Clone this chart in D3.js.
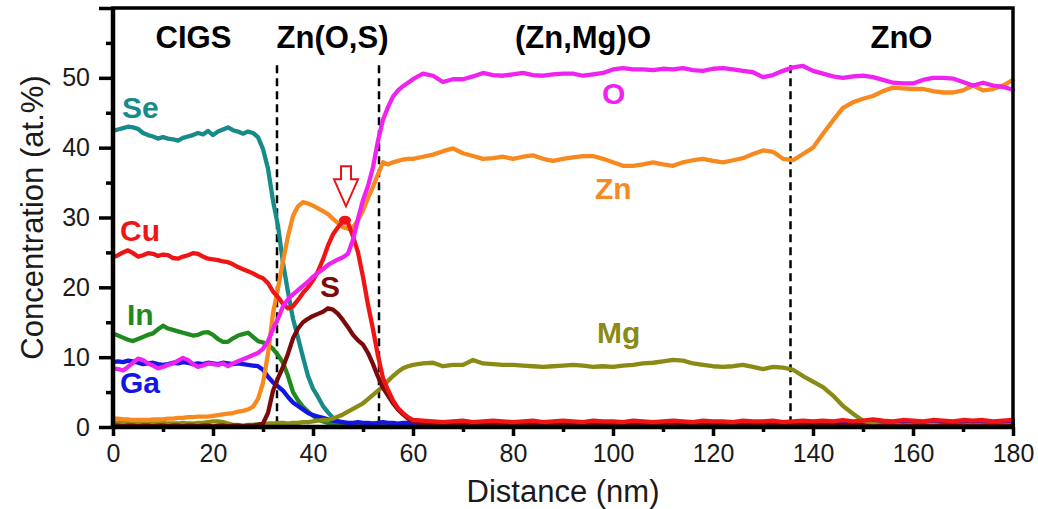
<!DOCTYPE html>
<html>
<head>
<meta charset="utf-8">
<script src="https://cdn.jsdelivr.net/npm/d3@7"></script>
<style>
  body { margin: 0; background: #fff; }
  svg { display: block; font-family: "Liberation Sans", Arial, sans-serif; }
</style>
</head>
<body>
<div id="container"></div>
<script>
const width = 1038;
const height = 509;
const marginLeft = 113;
const marginRight = 25;
const marginTop = 8;
const marginBottom = 82;

// distance grid (nm): 1 nm steps up to 60, then 2 nm steps
const distance = [
  0, 1, 2, 3, 4, 5, 6, 7, 8, 9, 10, 11, 12, 13, 14, 15, 16, 17, 18, 19,
  20, 21, 22, 23, 24, 25, 26, 27, 28, 29, 30, 31, 32, 33, 34, 35, 36, 37, 38, 39,
  40, 41, 42, 43, 44, 45, 46, 47, 48, 49, 50, 51, 52, 53, 54, 55, 56, 57, 58, 59, 60,
  62, 64, 66, 68, 70, 72, 74, 76, 78, 80, 82, 84, 86, 88, 90, 92, 94, 96, 98, 100,
  102, 104, 106, 108, 110, 112, 114, 116, 118, 120, 122, 124, 126, 128, 130, 132, 134, 136, 138, 140,
  142, 144, 146, 148, 150, 152, 154, 156, 158, 160, 162, 164, 166, 168, 170, 172, 174, 176, 178, 180
];

const seConc = [
  42.4, 42.6, 42.8, 43.0, 42.9, 42.7, 42.1, 41.8, 41.6, 41.3,
  41.5, 41.3, 41.2, 41.0, 41.4, 41.6, 41.8, 42.1, 41.9, 42.4,
  41.8, 42.3, 42.6, 42.9, 42.5, 42.3, 42.0, 42.3, 42.1, 41.5,
  39.8, 37.0, 32.4, 28.8, 23.5, 19.3, 15.5, 12.8, 10.0, 7.3,
  5.5, 4.3, 3.0, 2.1, 1.3, 0.8, 0.6, 0.5, 0.5, 0.4,
  0.5, 0.4, 0.5, 0.4, 0.4, 0.5, 0.4, 0.4, 0.5, 0.4,
  0.4,
  0.4, 0.5, 0.4, 0.4, 0.5, 0.4, 0.3, 0.4, 0.5, 0.4,
  0.4, 0.3, 0.4, 0.5, 0.4, 0.4, 0.5, 0.4, 0.3, 0.4,
  0.4, 0.5, 0.4, 0.4, 0.3, 0.4, 0.5, 0.4, 0.4, 0.5,
  0.4, 0.3, 0.4, 0.4, 0.5, 0.4, 0.4, 0.3, 0.4, 0.5,
  0.4, 0.4, 0.5, 0.4, 0.3, 0.4, 0.4, 0.5, 0.4, 0.4,
  0.3, 0.4, 0.5, 0.4, 0.4, 0.5, 0.4, 0.3, 0.4, 0.4
];

const cuConc = [
  24.3, 24.6, 25.0, 25.3, 24.9, 24.4, 24.6, 24.9, 24.8, 24.5,
  24.7, 24.6, 24.2, 24.1, 24.4, 24.6, 24.9, 24.8, 24.4, 24.1,
  24.0, 23.9, 23.7, 23.6, 23.3, 22.9, 22.6, 22.3, 22.0, 21.6,
  21.3, 20.6, 19.4, 18.6, 17.6, 17.0, 17.3, 18.2, 19.2, 20.0,
  21.0, 22.3, 24.0, 26.0, 27.6, 28.6, 29.5, 29.2, 27.3, 25.0,
  21.5, 17.5, 14.0, 10.2, 7.0, 5.3, 3.8, 2.7, 2.0, 1.4,
  1.0,
  0.9, 0.8, 0.7, 0.8, 0.9, 0.7, 0.8, 0.9, 0.8, 0.7,
  0.8, 0.9, 0.7, 0.8, 0.9, 0.8, 0.7, 0.9, 0.8, 0.8,
  0.7, 0.9, 0.8, 0.7, 0.8, 0.9, 0.8, 0.7, 0.9, 0.8,
  0.8, 0.7, 0.9, 0.8, 0.8, 0.9, 0.7, 0.8, 0.9, 0.8,
  0.9, 0.8, 1.0, 0.8, 0.9, 1.1, 0.9, 0.8, 1.0, 0.9,
  0.8, 1.0, 0.9, 0.8, 1.0, 0.9, 1.0, 0.8, 0.9, 1.0
];

const inConc = [
  13.4, 13.1, 12.8, 12.5, 12.3, 12.6, 12.9, 13.2, 13.4, 14.0,
  14.5, 14.1, 13.9, 13.7, 13.5, 13.3, 13.1, 13.2, 13.5, 13.6,
  13.2, 12.6, 12.2, 12.2, 12.7, 13.1, 13.3, 13.5, 12.9, 12.3,
  12.1, 11.8, 11.2, 10.3, 9.2, 7.3, 5.0, 3.8, 2.9, 2.2,
  1.6, 1.1, 0.8, 0.6, 0.5, 0.5, 0.4, 0.4, 0.5, 0.4,
  0.4, 0.5, 0.4, 0.4, 0.5, 0.4, 0.4, 0.4, 0.5, 0.4,
  0.4,
  0.4, 0.3, 0.4, 0.4, 0.3, 0.4, 0.5, 0.4, 0.3, 0.4,
  0.4, 0.4, 0.3, 0.4, 0.5, 0.4, 0.3, 0.4, 0.4, 0.3,
  0.4, 0.4, 0.5, 0.4, 0.3, 0.4, 0.4, 0.3, 0.4, 0.5,
  0.4, 0.4, 0.3, 0.4, 0.4, 0.5, 0.4, 0.3, 0.4, 0.4,
  0.3, 0.4, 0.4, 0.5, 0.4, 0.4, 0.3, 0.4, 0.4, 0.5,
  0.4, 0.3, 0.4, 0.4, 0.5, 0.4, 0.4, 0.3, 0.4, 0.4
];

const gaConc = [
  9.3, 9.4, 9.3, 9.5, 9.4, 9.2, 9.0, 9.1, 9.2, 9.0,
  8.9, 9.0, 9.2, 9.1, 9.3, 9.2, 9.0, 9.1, 9.0, 9.2,
  9.1, 9.0, 9.2, 9.1, 9.0, 9.1, 9.0, 8.9, 8.8, 8.7,
  8.2, 7.2, 6.4, 5.8, 5.2, 4.3, 3.5, 3.0, 2.5, 2.0,
  1.7, 1.5, 1.3, 1.1, 0.9, 0.8, 0.7, 0.6, 0.6, 0.7,
  0.6, 0.6, 0.5, 0.6, 0.7, 0.6, 0.6, 0.5, 0.6, 0.6,
  0.6,
  0.6, 0.6, 0.5, 0.6, 0.7, 0.6, 0.5, 0.6, 0.6, 0.7,
  0.6, 0.5, 0.6, 0.6, 0.7, 0.6, 0.6, 0.5, 0.6, 0.7,
  0.6, 0.6, 0.5, 0.6, 0.7, 0.6, 0.6, 0.5, 0.6, 0.6,
  0.7, 0.6, 0.5, 0.6, 0.6, 0.7, 0.6, 0.6, 0.5, 0.6,
  0.6, 0.7, 0.6, 0.6, 0.5, 0.6, 0.7, 0.6, 0.6, 0.5,
  0.6, 0.6, 0.7, 0.6, 0.6, 0.5, 0.6, 0.7, 0.6, 0.6
];

const sConc = [
  0.2, 0.2, 0.1, 0.2, 0.2, 0.1, 0.2, 0.2, 0.1, 0.2,
  0.2, 0.1, 0.2, 0.2, 0.1, 0.2, 0.2, 0.1, 0.2, 0.2,
  0.1, 0.2, 0.2, 0.1, 0.2, 0.2, 0.1, 0.2, 0.2, 0.3,
  0.5, 2.0, 5.2, 7.0, 8.6, 10.5, 12.7, 14.1, 15.0, 15.5,
  15.9, 16.2, 16.5, 17.0, 16.8, 16.2, 15.3, 14.3, 13.2, 12.4,
  11.8, 10.6, 9.0, 7.2, 5.6, 4.5, 3.4, 2.5, 1.8, 1.2,
  0.8,
  0.5, 0.4, 0.3, 0.3, 0.2, 0.2, 0.3, 0.2, 0.2, 0.1,
  0.2, 0.2, 0.1, 0.2, 0.2, 0.2, 0.1, 0.2, 0.2, 0.1,
  0.2, 0.2, 0.1, 0.2, 0.2, 0.2, 0.1, 0.2, 0.2, 0.1,
  0.2, 0.2, 0.1, 0.2, 0.2, 0.1, 0.2, 0.2, 0.2, 0.1,
  0.2, 0.2, 0.1, 0.2, 0.2, 0.1, 0.2, 0.2, 0.1, 0.2,
  0.2, 0.1, 0.2, 0.2, 0.2, 0.1, 0.2, 0.2, 0.1, 0.2
];

const oConc = [
  8.4, 8.3, 8.1, 8.6, 9.2, 9.8, 9.6, 9.1, 8.8, 8.4,
  8.6, 8.9, 9.1, 9.5, 9.9, 9.6, 9.0, 8.6, 8.8, 9.1,
  9.0, 8.9, 9.1, 8.7, 9.1, 9.4, 9.7, 10.0, 10.3, 10.6,
  11.2, 12.3, 14.0, 15.5, 17.3, 18.3, 19.0, 19.6, 20.2, 20.8,
  21.5, 22.1, 22.6, 23.2, 23.6, 24.0, 24.3, 24.8, 26.8, 29.8,
  32.5, 34.5, 37.2, 41.0, 44.0, 45.8, 47.3, 48.2, 48.8, 49.3,
  49.8,
  50.6, 50.3, 49.4, 49.8, 49.8, 50.2, 50.7, 50.4, 50.3, 50.5,
  50.7, 50.4, 50.3, 50.5, 50.6, 50.6, 50.3, 50.5, 50.7, 51.2,
  51.4, 51.2, 51.2, 51.1, 51.3, 51.2, 51.4, 51.1, 51.0, 51.3,
  51.4, 51.2, 51.0, 50.8, 50.1, 50.4, 51.0, 51.5, 51.7, 51.0,
  50.6, 50.2, 50.0, 50.2, 50.3, 50.1, 49.7, 49.3, 49.2, 49.2,
  49.7, 50.0, 50.0, 49.9, 49.4, 48.9, 49.3, 48.9, 48.7, 48.3
];

const znConc = [
  1.2, 1.2, 1.1, 1.1, 1.0, 1.0, 1.0, 1.0, 1.1, 1.1,
  1.1, 1.2, 1.2, 1.3, 1.3, 1.4, 1.4, 1.5, 1.5, 1.5,
  1.6, 1.7, 1.8, 1.9, 2.0, 2.2, 2.3, 2.5, 2.9, 4.0,
  6.3, 10.5, 16.3, 19.8, 23.8, 27.3, 30.2, 31.6, 32.2, 32.0,
  31.7, 31.3, 30.9, 30.5, 29.8, 29.2, 28.6, 28.4, 28.6, 29.6,
  31.0, 32.8, 34.4, 36.2, 37.9, 37.6, 37.9, 38.1, 38.3, 38.4,
  38.4,
  38.7, 39.0, 39.5, 39.9, 39.2, 38.8, 38.4, 38.5, 38.7, 38.4,
  38.7, 38.9, 38.4, 38.1, 38.4, 38.6, 38.8, 38.8, 38.4, 37.9,
  37.4, 37.4, 37.6, 37.9, 37.6, 37.4, 37.9, 38.2, 38.4, 38.1,
  37.9, 38.2, 38.5, 39.1, 39.6, 39.4, 38.4, 38.2, 39.1, 40.0,
  42.0, 43.9, 45.7, 46.5, 47.0, 47.4, 48.1, 48.6, 48.5, 48.4,
  48.4, 48.1, 47.9, 47.9, 48.2, 48.9, 48.2, 48.4, 48.9, 49.7
];

const mgConc = [
  0.7, 0.6, 0.7, 0.6, 0.5, 0.6, 0.5, 0.6, 0.5, 0.5,
  0.6, 0.5, 0.5, 0.5, 0.6, 0.5, 0.5, 0.6, 0.6, 0.7,
  0.8, 0.8, 0.7, 0.5, 0.3, 0.3, 0.2, 0.3, 0.3, 0.4,
  0.4, 0.5, 0.5, 0.6, 0.6, 0.5, 0.6, 0.6, 0.7, 0.7,
  0.8, 0.9, 1.0, 1.0, 1.2, 1.5, 1.8, 2.2, 2.6, 3.0,
  3.4, 4.0, 4.6, 5.2, 5.8, 6.6, 7.3, 7.9, 8.4, 8.7,
  8.9,
  9.1, 9.2, 8.7, 8.9, 8.9, 9.6, 9.1, 9.0, 8.9, 8.9,
  8.8, 8.7, 8.6, 8.7, 8.8, 8.9, 8.8, 8.6, 8.7, 8.6,
  8.8, 8.9, 9.1, 9.2, 9.4, 9.6, 9.5, 9.1, 8.9, 8.7,
  8.6, 8.7, 8.9, 8.6, 8.3, 8.6, 8.5, 8.2, 7.3, 6.5,
  5.7, 4.5, 3.0, 1.9, 0.9, 0.4, 0.3, 0.3, 0.2, 0.3,
  0.2, 0.3, 0.2, 0.2, 0.3, 0.2, 0.3, 0.2, 0.2, 0.3
];

// layer boundaries (nm) and layer names
const boundaries = [32.8, 53.2, 135.5];
const layerNames = ["CIGS", "Zn(O,S)", "(Zn,Mg)O", "ZnO"];
const layerCenters = [16.1, 43.9, 94, 157.7];

const xTicks = [0, 20, 40, 60, 80, 100, 120, 140, 160, 180];
const xMinor = [10, 30, 50, 70, 90, 110, 130, 150, 170];
const yTicks = [0, 10, 20, 30, 40, 50, 60];
const yMinor = [5, 15, 25, 35, 45, 55];

// drawing order: bottom to top
const series = [
  { name: "Se", values: seConc, color: "#178b89", label: [1.8, 44.3] },
  { name: "In", values: inConc, color: "#1f8b1f", label: [2.8, 14.6] },
  { name: "Ga", values: gaConc, color: "#1414e4", label: [1.4, 4.9] },
  { name: "Mg", values: mgConc, color: "#8a8a14", label: [96.8, 12.1] },
  { name: "Zn", values: znConc, color: "#f7891f", label: [96.4, 32.6] },
  { name: "S", values: sConc, color: "#7b0b0b", label: [41.4, 18.6] },
  { name: "Cu", values: cuConc, color: "#f01414", label: [1.4, 26.7] },
  { name: "O", values: oConc, color: "#f022f0", label: [97.8, 46.3] }
];

const svg = d3.select("#container")
  .append("svg")
  .attr("width", width)
  .attr("height", height);

const x = d3.scaleLinear()
  .domain([0, 180])
  .range([marginLeft, width - marginRight]);

const y = d3.scaleLinear()
  .domain([0, 60])
  .range([height - marginBottom, marginTop]);

const line = d3.line()
  .x((d, i) => x(distance[i]))
  .y(d => y(d));

// dashed layer boundaries
svg.append("g")
  .selectAll("line")
  .data(boundaries)
  .join("line")
  .attr("x1", d => x(d))
  .attr("x2", d => x(d))
  .attr("y1", y(51.8))
  .attr("y2", y(0))
  .attr("stroke", "#000")
  .attr("stroke-width", 2.5)
  .attr("stroke-dasharray", "8,5");

// concentration profiles
svg.append("g")
  .selectAll("path")
  .data(series)
  .join("path")
  .attr("fill", "none")
  .attr("stroke", d => d.color)
  .attr("stroke-width", 4.3)
  .attr("stroke-linejoin", "round")
  .attr("stroke-linecap", "round")
  .attr("d", d => line(d.values));

// Cu peak marker and arrow
svg.append("ellipse")
  .attr("cx", x(46.4))
  .attr("cy", y(29.6))
  .attr("rx", 6)
  .attr("ry", 4.5)
  .attr("fill", "#f01414");

const tip = [x(46.6), y(31.6)];
svg.append("path")
  .attr("transform", `translate(${tip[0]},${tip[1]})`)
  .attr("d", "M0,0 L-12,-27 L-5,-27 L-5,-40 L5,-40 L5,-27 L12,-27 Z")
  .attr("fill", "#fff")
  .attr("stroke", "#e81414")
  .attr("stroke-width", 2);

// element labels
svg.append("g")
  .selectAll("text")
  .data(series)
  .join("text")
  .attr("x", d => x(d.label[0]))
  .attr("y", d => y(d.label[1]))
  .attr("fill", d => d.color)
  .attr("font-size", 30)
  .attr("font-weight", "bold")
  .text(d => d.name);

// layer names
svg.append("g")
  .selectAll("text")
  .data(layerNames)
  .join("text")
  .attr("x", (d, i) => x(layerCenters[i]))
  .attr("y", y(54.3))
  .attr("text-anchor", "middle")
  .attr("font-size", 31)
  .attr("font-weight", "bold")
  .attr("fill", "#000")
  .text(d => d);

// axes
svg.append("g")
  .attr("transform", `translate(0,${y(0)})`)
  .call(d3.axisBottom(x).tickValues(xTicks).tickSize(9).tickPadding(8));
svg.append("g")
  .attr("transform", `translate(0,${y(0)})`)
  .call(d3.axisBottom(x).tickValues(xMinor).tickSize(5).tickFormat(""));

svg.append("g")
  .attr("transform", `translate(${x(0)},0)`)
  .call(d3.axisLeft(y).tickValues(yTicks).tickSize(14).tickPadding(9)
    .tickFormat(d => d === 60 ? "" : d));
svg.append("g")
  .attr("transform", `translate(${x(0)},0)`)
  .call(d3.axisLeft(y).tickValues(yMinor).tickSize(7).tickFormat(""));

svg.selectAll(".domain").remove();
svg.selectAll(".tick line").attr("stroke", "#000").attr("stroke-width", 3.5);
svg.selectAll(".tick text")
  .attr("font-size", 25)
  .attr("fill", "#1a1a1a")
  .attr("font-family", "'Liberation Sans', Arial, sans-serif");

// frame
svg.append("rect")
  .attr("x", x(0))
  .attr("y", y(60))
  .attr("width", x(180) - x(0))
  .attr("height", y(0) - y(60))
  .attr("fill", "none")
  .attr("stroke", "#000")
  .attr("stroke-width", 3.5);
svg.append("line")
  .attr("x1", x(0)).attr("x2", x(0))
  .attr("y1", y(60)).attr("y2", y(0) + 2)
  .attr("stroke", "#000")
  .attr("stroke-width", 4.5);
svg.append("line")
  .attr("x1", x(0)).attr("x2", x(180))
  .attr("y1", y(0)).attr("y2", y(0))
  .attr("stroke", "#000")
  .attr("stroke-width", 4.5);

// axis titles
svg.append("text")
  .attr("x", (x(0) + x(180)) / 2)
  .attr("y", 502)
  .attr("text-anchor", "middle")
  .attr("font-size", 31)
  .attr("fill", "#1a1a1a")
  .text("Distance (nm)");

svg.append("text")
  .attr("transform", `translate(43,${(y(0) + y(60)) / 2}) rotate(-90)`)
  .attr("text-anchor", "middle")
  .attr("font-size", 31)
  .attr("fill", "#1a1a1a")
  .text("Concentration (at.%)");
</script>
</body>
</html>
